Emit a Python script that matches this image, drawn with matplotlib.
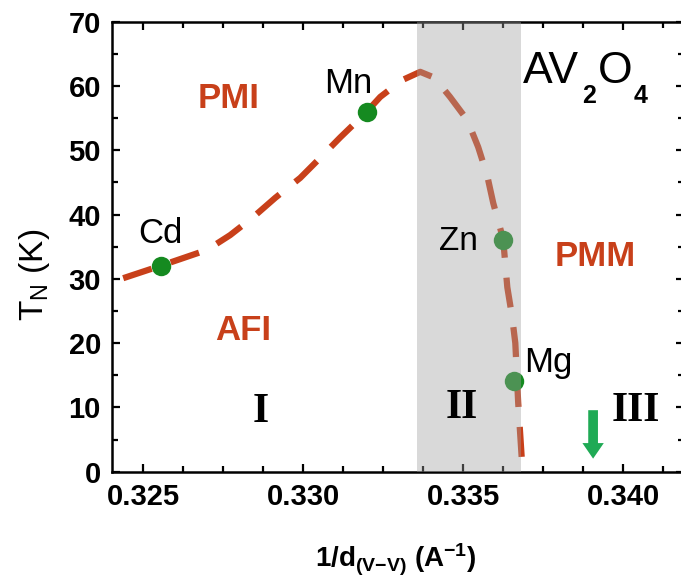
import numpy as np
import matplotlib
matplotlib.use('Agg')
import matplotlib.pyplot as plt
from matplotlib.ticker import MultipleLocator

plt.rcParams['font.family'] = ['Liberation Sans', 'DejaVu Sans']
plt.rcParams['mathtext.fontset'] = 'custom'
plt.rcParams['mathtext.rm'] = 'Liberation Sans'
plt.rcParams['mathtext.it'] = 'Liberation Sans'
plt.rcParams['mathtext.bf'] = 'Liberation Sans:bold'

# ---- data ----
compounds = ['Cd', 'Mn', 'Zn', 'Mg']
inv_d = [0.32555, 0.33199, 0.33626, 0.33659]
t_n = [32.0, 56.0, 36.1, 14.1]

# dashed guide-to-the-eye boundary
curve_x = [0.32438, 0.32553, 0.32700, 0.32772, 0.32844, 0.32913, 0.32991,
           0.33047, 0.33116, 0.33197, 0.33241, 0.33309, 0.33366, 0.33410,
           0.33459, 0.33513, 0.33547, 0.33575, 0.33594, 0.33625, 0.33638,
           0.33653, 0.33663, 0.33672, 0.33684, 0.33688]
curve_y = [30.1, 32.0, 34.5, 36.8, 39.6, 42.6, 45.7,
           48.5, 52.0, 55.9, 58.3, 60.9, 62.2, 61.3,
           58.3, 54.7, 50.5, 46.1, 41.8, 36.2, 28.7,
           24.1, 20.0, 10.7, 1.4, 0.0]

band_lo, band_hi = 0.33356, 0.33681   # region II
arrow_x = 0.33906

phase_labels = ['PMI', 'AFI', 'PMM']
phase_x = [0.32766, 0.32813, 0.33913]
phase_y = [58.1, 22.0, 33.4]

region_labels = ['I', 'II', 'III']
region_x = [0.32866, 0.33497, 0.34041]
region_y = [9.3, 9.9, 9.4]

# AV2O4 formula pieces (text, x, baseline y, is subscript)
formula = [('AV', 0.33688, 60.4, False), ('2', 0.33872, 57.3, True),
           ('O', 0.33922, 60.4, False), ('4', 0.34034, 57.3, True)]

W, H = 681, 584
fig = plt.figure(figsize=(W / 100, H / 100), dpi=100)
ax = fig.add_axes([112 / W, (H - 471.7) / H, (684 - 112) / W, 450 / H])

red = '#c8401a'
ax.plot(curve_x, curve_y, color=red, lw=4.5, dashes=(4.8, 3.2),
        solid_capstyle='butt', dash_capstyle='butt', zorder=2)
ax.plot(inv_d, t_n, 'o', color='#158a20', ms=14, mec='none', zorder=3)

# shaded region II (lies over the curve, tints it)
ax.axvspan(band_lo, band_hi, color='#a0a0a0', alpha=0.4, lw=0, zorder=4)

# element labels
ax.text(inv_d[0], 37.0, 'Cd', fontsize=25, ha='center', va='center', zorder=5)
ax.text(0.33141, 60.4, 'Mn', fontsize=25, ha='center', va='center', zorder=5)
ax.text(0.33484, 35.8, 'Zn', fontsize=24, ha='center', va='center', zorder=5)
ax.text(0.33690, 17.0, 'Mg', fontsize=25, ha='left', va='center', zorder=5)

for lab, x, y in zip(phase_labels, phase_x, phase_y):
    ax.text(x, y, lab, fontsize=25, fontweight='bold', color=red,
            ha='center', va='center', zorder=5)

for lab, x, y in zip(region_labels, region_x, region_y):
    ax.text(x, y, lab, fontsize=30, fontweight='bold', family='Liberation Serif',
            ha='center', va='center', zorder=5)

for txt, x, y, sub in formula:
    ax.text(x, y, txt, fontsize=18 if sub else 32,
            fontweight='bold' if sub else 'normal',
            ha='left', va='baseline', zorder=5)

ax.annotate('', xy=(arrow_x, 1.6), xytext=(arrow_x, 10.0),
            arrowprops=dict(arrowstyle='simple,head_width=1.1,head_length=0.8,tail_width=0.5',
                            color='#1faa55', lw=0, mutation_scale=14), zorder=5)

ax.set_xlim(0.32403, 0.3419)
ax.set_ylim(0, 70)
ax.xaxis.set_major_locator(MultipleLocator(0.005))
ax.xaxis.set_minor_locator(MultipleLocator(0.00125))
ax.yaxis.set_major_locator(MultipleLocator(10))
ax.yaxis.set_minor_locator(MultipleLocator(5))
ax.set_xticks([0.325, 0.330, 0.335, 0.340])
ax.set_xticklabels(['0.325', '0.330', '0.335', '0.340'])

ax.tick_params(which='both', direction='in', top=True, right=True, width=1.6)
ax.tick_params(which='major', length=6)
ax.tick_params(which='minor', length=4)
ax.tick_params(axis='x', labelsize=21, pad=8)
ax.tick_params(axis='y', labelsize=21, pad=8)
for t in ax.get_yticklabels():
    t.set_fontweight('bold')
for t in ax.get_xticklabels():
    t.set_fontweight('bold')
for s in ax.spines.values():
    s.set_linewidth(1.8)

ax.set_ylabel(r'T$_N$ (K)', fontsize=24)
ax.yaxis.set_label_coords(-0.105, 0.437)
ax.set_xlabel(r'1/d$_\mathbf{(V{-}V)}$ (A$^\mathbf{-1}$)', fontsize=20, fontweight='bold')
ax.xaxis.set_label_coords(0.496, -0.155)

fig.savefig('out.png', dpi=100)
